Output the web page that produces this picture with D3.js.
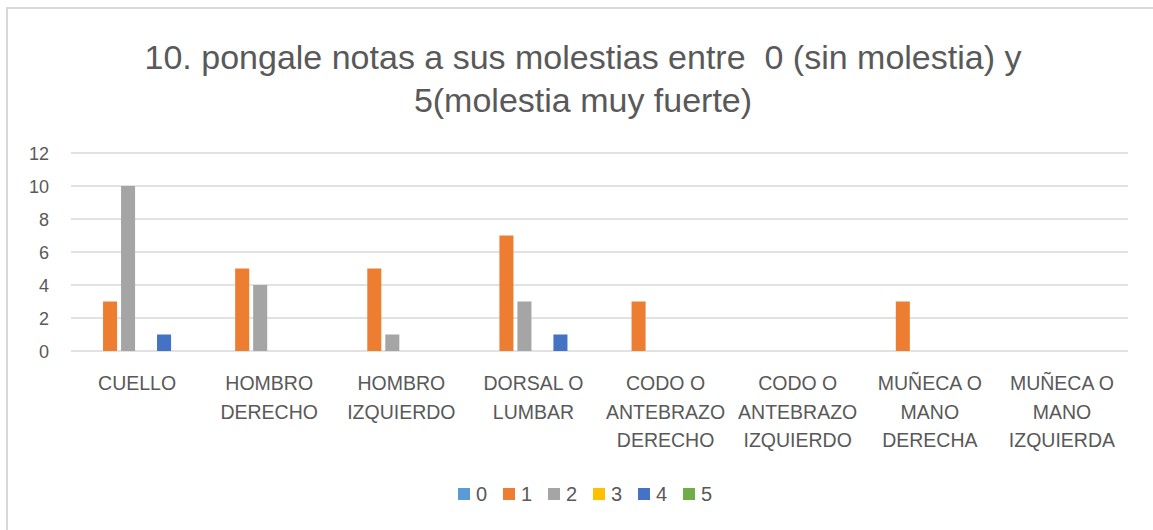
<!DOCTYPE html>
<html>
<head>
<meta charset="utf-8">
<script src="https://cdn.jsdelivr.net/npm/d3@7"></script>
<style>
  body { margin: 0; background: #fff; }
  text { font-family: "Liberation Sans", Arial, sans-serif; fill: #595959; }
</style>
</head>
<body>
<svg id="chart" width="1153" height="530"></svg>
<script>
// data
var titleLines = ["10. pongale notas a sus molestias entre  0 (sin molestia) y", "5(molestia muy fuerte)"];
var categories = ["CUELLO", "HOMBRO DERECHO", "HOMBRO IZQUIERDO", "DORSAL O LUMBAR",
    "CODO O ANTEBRAZO DERECHO", "CODO O ANTEBRAZO IZQUIERDO", "MUÑECA O MANO DERECHA", "MUÑECA O MANO IZQUIERDA"];
var tickLabels = [["CUELLO"], ["HOMBRO", "DERECHO"], ["HOMBRO", "IZQUIERDO"], ["DORSAL O", "LUMBAR"],
    ["CODO O", "ANTEBRAZO", "DERECHO"], ["CODO O", "ANTEBRAZO", "IZQUIERDO"],
    ["MUÑECA O", "MANO", "DERECHA"], ["MUÑECA O", "MANO", "IZQUIERDA"]];
var seriesNames = ["0", "1", "2", "3", "4", "5"];
var seriesColors = ["#5B9BD5", "#ED7D31", "#A5A5A5", "#FFC000", "#4472C4", "#70AD47"];
var s0 = [0, 0, 0, 0, 0, 0, 0, 0];
var s1 = [3, 5, 5, 7, 3, 0, 3, 0];
var s2 = [10, 4, 1, 3, 0, 0, 0, 0];
var s3 = [0, 0, 0, 0, 0, 0, 0, 0];
var s4 = [1, 0, 0, 1, 0, 0, 0, 0];
var s5 = [0, 0, 0, 0, 0, 0, 0, 0];
var yTicks = [0, 2, 4, 6, 8, 10, 12];

var seriesValues = [s0, s1, s2, s3, s4, s5];

var svg = d3.select("#chart");

// chart frame (only left/top edges show in the shot)
svg.append("rect")
    .attr("x", 7).attr("y", 8)
    .attr("width", 1160).attr("height", 540)
    .attr("fill", "none")
    .attr("stroke", "#d9d9d9")
    .attr("stroke-width", 2);

var plot = {left: 71, right: 1128, top: 153, bottom: 351};

var x0 = d3.scaleBand()
    .domain(categories)
    .range([plot.left, plot.right]);

var x1 = d3.scaleBand()
    .domain(seriesNames)
    .range([0, x0.bandwidth()])
    .paddingInner(0.22)
    .paddingOuter(0.78);

var y = d3.scaleLinear()
    .domain([0, 12])
    .range([plot.bottom, plot.top]);

// title
svg.append("g").selectAll("text")
    .data(titleLines)
    .enter().append("text")
    .attr("x", 583)
    .attr("y", function(d, i) { return 69 + i * 43; })
    .attr("text-anchor", "middle")
    .style("font-size", "34px")
    .style("white-space", "pre")
    .text(function(d) { return d; });

// gridlines
svg.append("g").selectAll("line")
    .data(yTicks)
    .enter().append("line")
    .attr("x1", plot.left).attr("x2", plot.right)
    .attr("y1", function(d) { return y(d); })
    .attr("y2", function(d) { return y(d); })
    .attr("stroke", "#d9d9d9")
    .attr("stroke-width", 1.5);

// y axis labels
var yAxis = svg.append("g")
    .attr("transform", "translate(" + (plot.left - 22) + ",0)")
    .call(d3.axisLeft(y).tickValues(yTicks).tickSize(0).tickPadding(0));
yAxis.select(".domain").remove();
yAxis.selectAll("text")
    .style("font-size", "18px")
    .attr("fill", "#595959")
    .attr("dy", "0.34em");

// bars
var groups = svg.append("g").selectAll("g")
    .data(categories)
    .enter().append("g")
    .attr("transform", function(d) { return "translate(" + x0(d) + ",0)"; });

groups.selectAll("rect")
    .data(function(d, ci) {
        return seriesNames.map(function(s, si) {
            return {series: s, value: seriesValues[si][ci], color: seriesColors[si]};
        });
    })
    .enter().append("rect")
    .attr("x", function(d) { return x1(d.series); })
    .attr("y", function(d) { return y(d.value); })
    .attr("width", x1.bandwidth())
    .attr("height", function(d) { return y(0) - y(d.value); })
    .attr("fill", function(d) { return d.color; });

// category labels
var catLabels = svg.append("g").selectAll("text")
    .data(categories)
    .enter().append("text")
    .attr("text-anchor", "middle")
    .attr("y", 390)
    .style("font-size", "19.5px");
catLabels.each(function(d, i) {
    var t = d3.select(this);
    tickLabels[i].forEach(function(line, li) {
        t.append("tspan")
            .attr("x", x0(d) + x0.bandwidth() / 2)
            .attr("dy", li === 0 ? 0 : 28.5)
            .text(line);
    });
});

// legend
var legend = svg.append("g").selectAll("g")
    .data(seriesNames)
    .enter().append("g")
    .attr("transform", function(d, i) { return "translate(" + (458 + i * 45) + ",488)"; });
legend.append("rect")
    .attr("width", 12).attr("height", 12)
    .attr("fill", function(d, i) { return seriesColors[i]; });
legend.append("text")
    .attr("x", 18).attr("y", 13)
    .style("font-size", "20px")
    .text(function(d) { return d; });
</script>
</body>
</html>
